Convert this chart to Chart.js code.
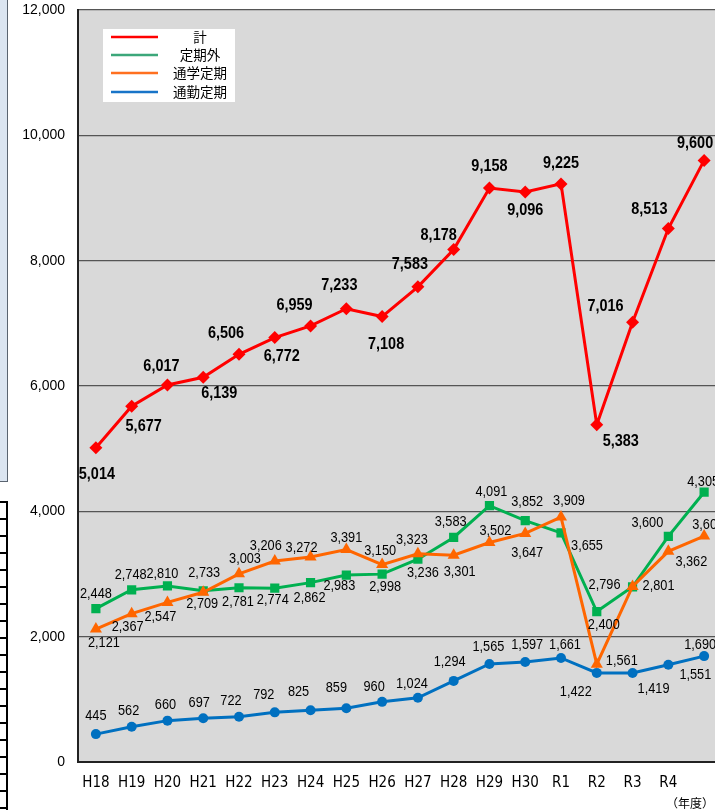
<!DOCTYPE html>
<html>
<head>
<meta charset="utf-8">
<script src="https://cdn.jsdelivr.net/npm/chart.js@4.4.0/dist/chart.umd.min.js"></script>
<style>
html,body{margin:0;padding:0;background:#fff;overflow:hidden;width:715px;height:810px;}
#wrap{position:relative;width:715px;height:810px;overflow:hidden;}
#c{position:absolute;left:0;top:0;}
#panel{position:absolute;left:0;top:0;width:7px;height:481px;background:#dbe5f1;border-right:1px solid #5a6470;border-bottom:1px solid #5a6470;}
#grid{position:absolute;left:0;top:501px;width:6px;height:309px;border-right:2px solid #000;background:repeating-linear-gradient(to bottom,#000 0,#000 2px,transparent 2px,transparent 17px);}
</style>
</head>
<body>
<div id="wrap">
<canvas id="c" width="729" height="810"></canvas>
<div id="panel"></div>
<div id="grid"></div>
</div>
<script>
// ---- data ----
const categories = ['H18','H19','H20','H21','H22','H23','H24','H25','H26','H27','H28','H29','H30','R1','R2','R3','R4','R5'];
const tickLabels = ['H18','H19','H20','H21','H22','H23','H24','H25','H26','H27','H28','H29','H30','R1','R2','R3','R4',''];
const seriesNames = ['計','定期外','通学定期','通勤定期'];
const totalValues   = [5014,5677,6017,6139,6506,6772,6959,7233,7108,7583,8178,9158,9096,9225,5383,7016,8513,9600];
const teikigaiValues= [2448,2748,2810,2733,2781,2774,2862,2983,2998,3236,3583,4091,3852,3655,2400,2796,3600,4305];
const tsugakuValues = [2121,2367,2547,2709,3003,3206,3272,3391,3150,3323,3301,3502,3647,3909,1561,2801,3362,3605];
const tsukinValues  = [445,562,660,697,722,792,825,859,960,1024,1294,1565,1597,1661,1422,1419,1551,1690];
const yTicks = [0,2000,4000,6000,8000,10000,12000];

// ---- label placement (style, not data) ----
const totalOffsets = [[1,27],[12,20],[-6,-19],[16,16],[-13,-21],[7,19],[-16,-21],[-7,-23],[4,28],[-8,-22],[-15,-14],[0,-22],[0,18],[0,-21],[24,17],[-27,-16],[-19,-19],[-9,-17]];
const teikigaiOffsets = [[0,-15],[-1,-15],[-5,-12],[1,-18],[-1,14],[-2,12],[-1,15],[-7,11],[3,13],[5,14],[-3,-16],[2,-14],[2,-19],[26,13],[7,13],[-28,-2],[-21,-14],[-1,-10]];
const tsugakuOffsets = [[8,14],[-4,13],[-7,14],[-1,12],[6,-15],[-9,-15],[-9,-9],[0,-12],[-2,-14],[-6,-14],[6,17],[6,-12],[2,19],[8,-16],[25,-3],[26,-1],[23,11],[4,-11]];
const tsukinOffsets = [[0,-18],[-3,-16],[-2,-16],[-4,-15],[-8,-16],[-11,-18],[-12,-18],[-10,-20],[-8,-15],[-6,-14],[-4,-19],[-1,-17],[2,-17],[4,-13],[-21,19],[21,16],[27,10],[-4,-11]];

const NARROW = "'DejaVu Sans Condensed','Liberation Sans Narrow',sans-serif";
const SANS = "'Liberation Sans',Arial,sans-serif";
const CJK = "'Noto Sans CJK JP','Noto Sans',sans-serif";

const bgPlugin = {
  id:'bg',
  beforeDraw(chart){
    const {ctx, chartArea:a} = chart;
    ctx.save();
    ctx.fillStyle = '#d9d9d9';
    ctx.fillRect(a.left, a.top, a.right-a.left, a.bottom-a.top);
    ctx.restore();
  }
};

const labelPlugin = {
  id:'vlabels',
  afterDatasetsDraw(chart){
    const ctx = chart.ctx;
    chart.data.datasets.forEach((ds,i)=>{
      const meta = chart.getDatasetMeta(i);
      meta.data.forEach((pt,j)=>{
        const o = ds.labelOffsets[j];
        ctx.save();
        ctx.font = ds.labelFont;
        ctx.fillStyle = '#000';
        ctx.textAlign = 'center';
        ctx.textBaseline = 'middle';
        ctx.translate(pt.x+o[0], pt.y+o[1]);
        ctx.scale(0.85, 1);
        ctx.fillText(ds.data[j].toLocaleString('en-US'), 0, 0);
        ctx.restore();
      });
    });
  }
};

const legendPlugin = {
  id:'boxlegend',
  afterDraw(chart){
    const ctx = chart.ctx;
    const colors = ['#ff0000','#3ca77a','#ff7020','#1874c8'];
    const ys = [37,55,73,92];
    ctx.save();
    ctx.fillStyle = '#fff';
    ctx.fillRect(103,29,132,73);
    ctx.lineWidth = 2.5;
    ctx.font = '13.5px ' + CJK;
    ctx.textAlign = 'center';
    ctx.textBaseline = 'middle';
    seriesNames.forEach((n,i)=>{
      ctx.strokeStyle = colors[i];
      ctx.beginPath(); ctx.moveTo(111,ys[i]); ctx.lineTo(158,ys[i]); ctx.stroke();
      ctx.fillStyle = '#000';
      ctx.fillText(n, 200, ys[i]);
    });
    ctx.font = '12px ' + CJK;
    ctx.fillText('（年度）', 690, 803);
    ctx.restore();
  }
};

const normalFont = '15px ' + SANS;
const boldFont = 'bold 17px ' + SANS;

new Chart(document.getElementById('c'), {
  type:'line',
  data:{
    labels: categories,
    datasets:[
      {label:seriesNames[0], data:totalValues, borderColor:'#ff0000', backgroundColor:'#ff0000', borderWidth:3, pointStyle:'rectRot', pointRadius:6.5, pointBorderWidth:0, order:1, labelOffsets:totalOffsets, labelFont:boldFont, tension:0},
      {label:seriesNames[1], data:teikigaiValues, borderColor:'#00b050', backgroundColor:'#00b050', borderWidth:3, pointStyle:'rect', pointRadius:6.5, pointBorderWidth:0, order:3, labelOffsets:teikigaiOffsets, labelFont:normalFont, tension:0},
      {label:seriesNames[2], data:tsugakuValues, borderColor:'#ff6600', backgroundColor:'#ff6600', borderWidth:3, pointStyle:'triangle', pointRadius:7, pointBorderWidth:0, order:2, labelOffsets:tsugakuOffsets, labelFont:normalFont, tension:0},
      {label:seriesNames[3], data:tsukinValues, borderColor:'#0070c0', backgroundColor:'#0070c0', borderWidth:3, pointStyle:'circle', pointRadius:5, pointBorderWidth:0, order:4, labelOffsets:tsukinOffsets, labelFont:normalFont, tension:0}
    ]
  },
  options:{
    responsive:false,
    animation:false,
    devicePixelRatio:1,
    layout:{padding:{top:10,right:1,left:0,bottom:0}},
    plugins:{legend:{display:false}, tooltip:{enabled:false}},
    scales:{
      x:{
        offset:true,
        grid:{display:false, drawTicks:false},
        border:{display:true, color:'#222', width:2},
        ticks:{color:'#000', font:{family:NARROW, size:15}, padding:12, autoSkip:false, maxRotation:0,
               callback:(v,i)=>tickLabels[i]},
        afterFit:(s)=>{ s.height = 48; s.paddingLeft = 0; s.paddingRight = 0; }
      },
      y:{
        min:0, max:12000,
        afterBuildTicks:(s)=>{ s.ticks = yTicks.map(v=>({value:v})); },
        grid:{color:'#555', lineWidth:1.2, drawTicks:false},
        border:{display:true, color:'#222', width:2},
        ticks:{color:'#000', font:{family:SANS, size:14}, padding:13,
               callback:(v)=>v.toLocaleString('en-US')},
        afterFit:(s)=>{ s.width = 78; s.paddingTop = 0; s.paddingBottom = 0; }
      }
    }
  },
  plugins:[bgPlugin, labelPlugin, legendPlugin]
});
</script>
</body>
</html>
